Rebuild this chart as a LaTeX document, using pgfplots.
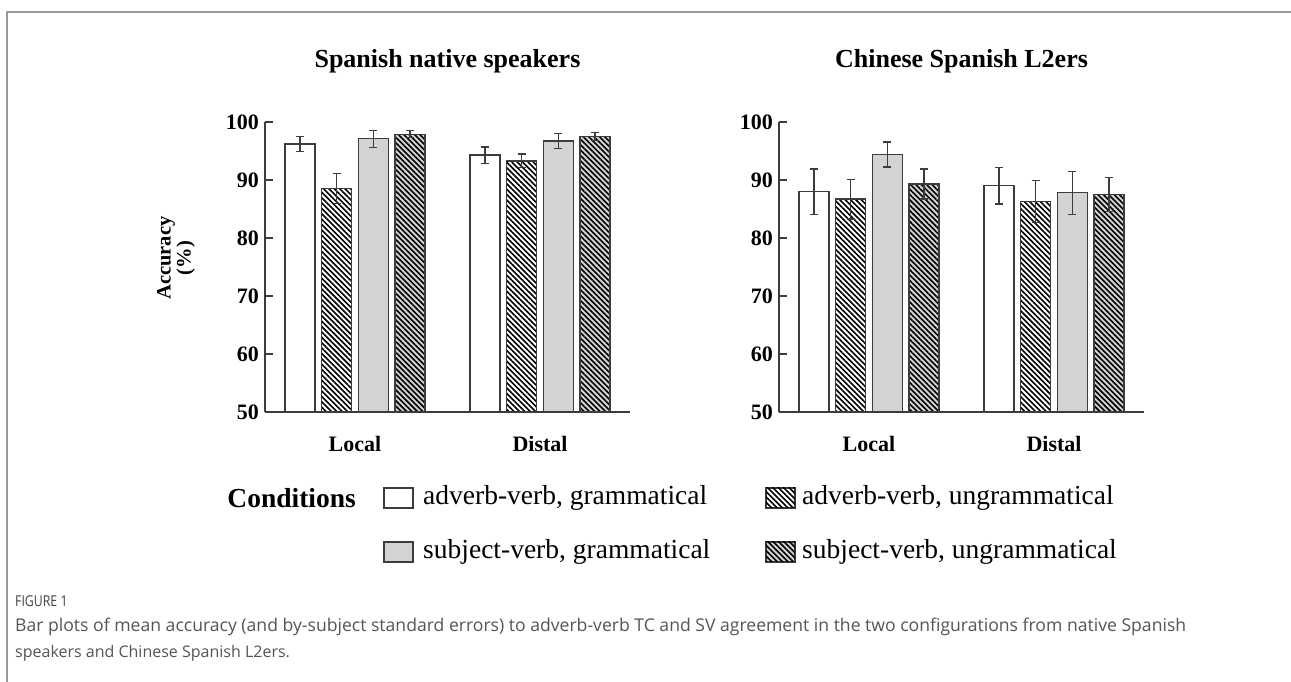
\documentclass[border=0pt]{standalone}
\usepackage{pgfplots}
\pgfplotsset{compat=1.18}
\usepackage{pgfplotstable}
\usetikzlibrary{patterns.meta}
\usepackage{fontspec}
\setmainfont{Liberation Serif}
\newfontfamily\capfont{Open Sans}
\definecolor{barline}{HTML}{3C3C3C}
\definecolor{barfill}{HTML}{D3D3D3}
\definecolor{capgray}{HTML}{555555}
\definecolor{figgray}{HTML}{444444}
\definecolor{framegray}{HTML}{9A9A9A}

\pgfplotstableread{
x v1 e1 v2 e2 v3 e3 v4 e4
1 96.2 1.3 88.5 2.6 97.1 1.45 97.9 0.6
2 94.3 1.4 93.3 1.2 96.7 1.3 97.5 0.65
}\spanish

\pgfplotstableread{
x v1 e1 v2 e2 v3 e3 v4 e4
1 88.0 3.9 86.7 3.4 94.4 2.15 89.3 2.6
2 89.0 3.15 86.3 3.6 87.8 3.7 87.5 2.9
}\chinese

\tikzset{
  hatch/.style={pattern={Lines[angle=-45,distance=3.8pt,line width=1.6pt]}, pattern color=black},
}
\pgfplotsset{
  panel/.style={
    scale only axis, width=365pt, height=290pt,
    ybar=6.67pt, bar width=30pt,
    xmin=0.5135, xmax=2.4865, ymin=50, ymax=100,
    axis x line=bottom, axis y line=left,
    axis line style={-, draw=barline, line width=1.3pt},
    xtick={1,2}, xticklabels={Local,Distal},
    x tick style={draw=none},
    ytick={50,60,...,100},
    y tick style={draw=barline, line width=1.3pt},
    tick align=inside, major tick length=8pt,
    ticklabel style={font=\bfseries\fontsize{22}{22}\selectfont},
    /pgf/number format/assume math mode=true,
    yticklabel style={xshift=-2.5pt},
    xticklabel style={yshift=-21pt},
    axis on top,
    every axis plot/.append style={draw=barline, line width=1.3pt,
      error bars/y dir=both, error bars/y explicit,
      error bars/error bar style={draw=barline, line width=1.3pt},
      error bars/error mark options={rotate=90, mark size=4pt, draw=barline, line width=1.3pt}},
  },
}
\newcommand{\legtxt}[1]{{\fontsize{27.5}{27.5}\selectfont #1}}

\begin{document}
\begin{tikzpicture}[x=1pt,y=1pt]
\path[use as bounding box] (0,0) rectangle (1291,682);
\fill[white] (0,0) rectangle (1291,682);
\draw[framegray, line width=1.5pt] (7,0) -- (7,670) -- (1291,670);

% Left panel
\begin{axis}[panel, at={(265pt,270pt)}, anchor=south west]
\addplot[fill=white] table[x=x, y=v1, y error=e1] {\spanish};
\addplot[fill=white, postaction={hatch}] table[x=x, y=v2, y error=e2] {\spanish};
\addplot[fill=barfill] table[x=x, y=v3, y error=e3] {\spanish};
\addplot[fill=barfill, postaction={hatch}] table[x=x, y=v4, y error=e4] {\spanish};
\end{axis}

% Right panel
\begin{axis}[panel, at={(779pt,270pt)}, anchor=south west]
\addplot[fill=white] table[x=x, y=v1, y error=e1] {\chinese};
\addplot[fill=white, postaction={hatch}] table[x=x, y=v2, y error=e2] {\chinese};
\addplot[fill=barfill] table[x=x, y=v3, y error=e3] {\chinese};
\addplot[fill=barfill, postaction={hatch}] table[x=x, y=v4, y error=e4] {\chinese};
\end{axis}

% Titles
\node[anchor=base, font=\bfseries\fontsize{26}{26}\selectfont] at (447.5,614) {Spanish native speakers};
\node[anchor=base, font=\bfseries\fontsize{26}{26}\selectfont] at (961.5,614) {Chinese Spanish L2ers};

% y label
\node[rotate=90, align=center, font=\bfseries\fontsize{20.5}{20}\selectfont] at (176,424) {Accuracy\\(\%)};

% Legend
\node[anchor=east, inner sep=0pt] at (356,184) {\legtxt{\bfseries Conditions}};
\draw[draw=barline, line width=1.3pt, fill=white] (384,174) rectangle (413,194);
\node[anchor=west, inner sep=0pt] at (423,184) {\legtxt{adverb-verb, grammatical}};
\draw[draw=barline, line width=1.3pt, fill=white, postaction={hatch}] (766,174) rectangle (795,194);
\node[anchor=west, inner sep=0pt] at (802,184) {\legtxt{adverb-verb, ungrammatical}};
\draw[draw=barline, line width=1.3pt, fill=barfill] (384,120) rectangle (413,140);
\node[anchor=west, inner sep=0pt] at (423,130) {\legtxt{subject-verb, grammatical}};
\draw[draw=barline, line width=1.3pt, fill=barfill, postaction={hatch}] (766,120) rectangle (795,140);
\node[anchor=west, inner sep=0pt] at (802,130) {\legtxt{subject-verb, ungrammatical}};

% Caption
\node[anchor=west, inner sep=0pt, text=figgray] at (15,81) {\scalebox{0.82}[1]{\capfont\fontsize{15}{15}\selectfont FIGURE 1}};
\node[anchor=west, inner sep=0pt, text=capgray] at (15,55) {\resizebox{1171pt}{!}{\capfont\fontsize{16}{16}\selectfont Bar plots of mean accuracy (and by-subject standard errors) to adverb-verb TC and SV agreement in the two configurations from native Spanish}};
\node[anchor=west, inner sep=0pt, text=capgray] at (15,29) {\capfont\fontsize{16}{16}\selectfont speakers and Chinese Spanish L2ers.};
\end{tikzpicture}
\end{document}
